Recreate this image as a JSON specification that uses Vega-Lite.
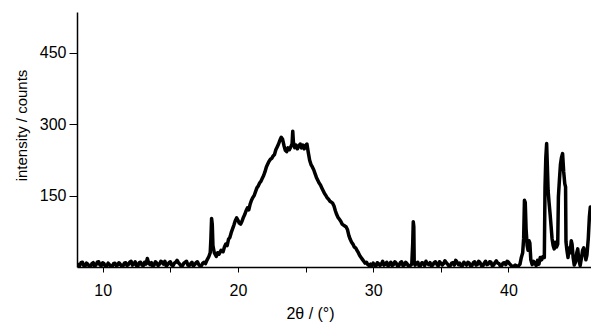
{
  "$schema": "https://vega.github.io/schema/vega-lite/v6.json",
  "width": 514,
  "height": 255,
  "autosize": "none",
  "padding": {"left": 77, "top": 12, "right": 0, "bottom": 58},
  "background": "white",
  "config": {"view": {"stroke": null}, "font": "Liberation Sans"},
  "data": {"values": [
    {"x":8.1,"y":8},{"x":8.2,"y":2},{"x":8.3,"y":3},{"x":8.4,"y":9},{"x":8.5,"y":10},{"x":8.6,"y":3},{"x":8.7,"y":2},{"x":8.8,"y":8},{"x":8.9,"y":6},{"x":9.0,"y":2},{"x":9.1,"y":1},{"x":9.2,"y":7},{"x":9.3,"y":9},{"x":9.4,"y":2},{"x":9.5,"y":4},{"x":9.6,"y":10},{"x":9.7,"y":11},{"x":9.8,"y":4},{"x":9.9,"y":3},
    {"x":10.0,"y":9},{"x":10.1,"y":7},{"x":10.2,"y":1},{"x":10.3,"y":2},{"x":10.4,"y":8},{"x":10.5,"y":5},{"x":10.6,"y":2},{"x":10.7,"y":1},{"x":10.8,"y":7},{"x":10.9,"y":8},{"x":11.0,"y":3},{"x":11.1,"y":4},{"x":11.2,"y":9},{"x":11.3,"y":6},{"x":11.4,"y":2},{"x":11.5,"y":2},{"x":11.6,"y":8},{"x":11.7,"y":9},{"x":11.8,"y":3},{"x":11.9,"y":5},
    {"x":12.0,"y":10},{"x":12.1,"y":12},{"x":12.2,"y":4},{"x":12.3,"y":6},{"x":12.4,"y":11},{"x":12.5,"y":3},{"x":12.6,"y":2},{"x":12.7,"y":9},{"x":12.8,"y":10},{"x":12.9,"y":4},{"x":13.0,"y":3},{"x":13.1,"y":10},{"x":13.2,"y":6},{"x":13.3,"y":18},{"x":13.4,"y":8},{"x":13.5,"y":5},{"x":13.6,"y":9},{"x":13.7,"y":2},{"x":13.8,"y":4},{"x":13.9,"y":11},
    {"x":14.0,"y":8},{"x":14.1,"y":3},{"x":14.2,"y":6},{"x":14.3,"y":12},{"x":14.4,"y":10},{"x":14.5,"y":6},{"x":14.6,"y":12},{"x":14.7,"y":2},{"x":14.8,"y":5},{"x":14.9,"y":9},{"x":15.0,"y":11},{"x":15.1,"y":4},{"x":15.2,"y":3},{"x":15.3,"y":8},{"x":15.4,"y":10},{"x":15.5,"y":14},{"x":15.6,"y":9},{"x":15.7,"y":6},{"x":15.8,"y":2},{"x":15.9,"y":3},
    {"x":16.0,"y":8},{"x":16.1,"y":10},{"x":16.2,"y":12},{"x":16.3,"y":4},{"x":16.4,"y":3},{"x":16.5,"y":7},{"x":16.6,"y":10},{"x":16.7,"y":2},{"x":16.8,"y":5},{"x":16.9,"y":9},{"x":17.0,"y":11},{"x":17.1,"y":5},{"x":17.2,"y":2},{"x":17.3,"y":3},{"x":17.4,"y":8},{"x":17.5,"y":10},{"x":17.6,"y":7},{"x":17.7,"y":14},{"x":17.85,"y":22},
    {"x":17.95,"y":30},{"x":18.0,"y":60},{"x":18.05,"y":102},{"x":18.1,"y":90},{"x":18.15,"y":45},{"x":18.25,"y":30},{"x":18.4,"y":22},{"x":18.5,"y":30},{"x":18.6,"y":27},{"x":18.75,"y":35},
    {"x":18.9,"y":32},{"x":19.0,"y":42},{"x":19.1,"y":48},{"x":19.2,"y":45},{"x":19.3,"y":58},{"x":19.4,"y":62},{"x":19.5,"y":72},{"x":19.6,"y":80},{"x":19.7,"y":88},{"x":19.8,"y":97},
    {"x":19.9,"y":103},{"x":20.0,"y":98},{"x":20.1,"y":92},{"x":20.2,"y":90},{"x":20.3,"y":96},{"x":20.4,"y":104},{"x":20.5,"y":110},{"x":20.6,"y":118},{"x":20.7,"y":124},{"x":20.8,"y":120},
    {"x":20.9,"y":132},{"x":21.0,"y":140},{"x":21.1,"y":146},{"x":21.2,"y":150},{"x":21.3,"y":158},{"x":21.4,"y":166},{"x":21.5,"y":170},{"x":21.6,"y":176},{"x":21.7,"y":180},{"x":21.8,"y":186},
    {"x":21.9,"y":192},{"x":22.0,"y":200},{"x":22.1,"y":210},{"x":22.2,"y":216},{"x":22.3,"y":222},{"x":22.4,"y":226},{"x":22.5,"y":228},{"x":22.6,"y":233},{"x":22.7,"y":236},{"x":22.8,"y":246},
    {"x":22.9,"y":252},{"x":23.0,"y":258},{"x":23.1,"y":266},{"x":23.2,"y":272},{"x":23.3,"y":268},{"x":23.4,"y":255},{"x":23.5,"y":245},{"x":23.6,"y":242},{"x":23.7,"y":250},{"x":23.8,"y":246},
    {"x":23.9,"y":252},{"x":24.0,"y":258},{"x":24.05,"y":285},{"x":24.1,"y":262},{"x":24.2,"y":250},{"x":24.3,"y":256},{"x":24.4,"y":248},{"x":24.5,"y":254},{"x":24.6,"y":258},{"x":24.7,"y":250},
    {"x":24.8,"y":256},{"x":24.9,"y":248},{"x":25.0,"y":255},{"x":25.1,"y":258},{"x":25.2,"y":240},{"x":25.3,"y":224},{"x":25.4,"y":215},{"x":25.5,"y":210},{"x":25.6,"y":204},{"x":25.7,"y":196},
    {"x":25.8,"y":188},{"x":25.9,"y":182},{"x":26.0,"y":176},{"x":26.1,"y":172},{"x":26.2,"y":166},{"x":26.3,"y":160},{"x":26.4,"y":154},{"x":26.5,"y":150},{"x":26.6,"y":145},{"x":26.7,"y":142},
    {"x":26.8,"y":138},{"x":26.9,"y":136},{"x":27.0,"y":134},{"x":27.1,"y":128},{"x":27.2,"y":118},{"x":27.3,"y":110},{"x":27.4,"y":104},{"x":27.5,"y":100},{"x":27.6,"y":96},{"x":27.7,"y":90},
    {"x":27.8,"y":88},{"x":27.9,"y":86},{"x":28.0,"y":84},{"x":28.1,"y":78},{"x":28.2,"y":66},{"x":28.3,"y":58},{"x":28.4,"y":52},{"x":28.5,"y":48},{"x":28.6,"y":42},{"x":28.7,"y":40},
    {"x":28.8,"y":35},{"x":28.9,"y":30},{"x":29.0,"y":24},{"x":29.1,"y":20},{"x":29.2,"y":16},{"x":29.3,"y":12},{"x":29.4,"y":8},{"x":29.5,"y":10},{"x":29.6,"y":5},{"x":29.7,"y":3},
    {"x":29.8,"y":6},{"x":29.9,"y":2},{"x":30.0,"y":8},{"x":30.1,"y":4},{"x":30.2,"y":2},{"x":30.3,"y":9},{"x":30.4,"y":7},{"x":30.5,"y":3},{"x":30.6,"y":6},{"x":30.7,"y":12},{"x":30.8,"y":4},{"x":30.9,"y":6},{"x":31.0,"y":10},{"x":31.1,"y":2},{"x":31.2,"y":5},{"x":31.3,"y":10},
    {"x":31.4,"y":3},{"x":31.5,"y":5},{"x":31.6,"y":11},{"x":31.7,"y":8},{"x":31.8,"y":2},{"x":31.9,"y":3},{"x":32.0,"y":9},{"x":32.1,"y":11},{"x":32.2,"y":3},{"x":32.3,"y":4},{"x":32.4,"y":10},{"x":32.5,"y":7},{"x":32.6,"y":2},{"x":32.7,"y":2},{"x":32.85,"y":6},{"x":32.92,"y":50},{"x":32.96,"y":95},
    {"x":33.0,"y":85},{"x":33.03,"y":10},{"x":33.1,"y":4},{"x":33.2,"y":8},{"x":33.3,"y":10},{"x":33.4,"y":2},{"x":33.5,"y":3},{"x":33.6,"y":9},{"x":33.7,"y":8},{"x":33.8,"y":3},{"x":33.9,"y":12},{"x":34.0,"y":7},{"x":34.1,"y":5},{"x":34.2,"y":9},{"x":34.3,"y":2},{"x":34.4,"y":4},{"x":34.5,"y":9},
    {"x":34.6,"y":11},{"x":34.7,"y":6},{"x":34.8,"y":2},{"x":34.9,"y":11},{"x":35.0,"y":8},{"x":35.1,"y":4},{"x":35.2,"y":7},{"x":35.3,"y":13},{"x":35.4,"y":9},{"x":35.5,"y":6},{"x":35.6,"y":2},{"x":35.7,"y":3},{"x":35.8,"y":8},{"x":35.9,"y":9},{"x":36.0,"y":4},{"x":36.1,"y":14},{"x":36.2,"y":10},{"x":36.3,"y":5},{"x":36.4,"y":8},{"x":36.5,"y":2},
    {"x":36.6,"y":3},{"x":36.7,"y":10},{"x":36.8,"y":7},{"x":36.9,"y":4},{"x":37.0,"y":10},{"x":37.1,"y":8},{"x":37.2,"y":2},{"x":37.3,"y":3},{"x":37.4,"y":9},{"x":37.5,"y":11},{"x":37.6,"y":4},{"x":37.7,"y":5},{"x":37.8,"y":12},{"x":37.9,"y":9},{"x":38.0,"y":3},{"x":38.1,"y":2},{"x":38.2,"y":8},{"x":38.3,"y":12},{"x":38.4,"y":5},{"x":38.5,"y":6},
    {"x":38.6,"y":11},{"x":38.7,"y":10},{"x":38.8,"y":3},{"x":38.9,"y":4},{"x":39.0,"y":9},{"x":39.1,"y":13},{"x":39.2,"y":8},{"x":39.3,"y":7},{"x":39.4,"y":2},{"x":39.5,"y":3},{"x":39.6,"y":8},{"x":39.7,"y":9},{"x":39.8,"y":5},{"x":39.9,"y":12},{"x":40.0,"y":10},{"x":40.1,"y":6},{"x":40.2,"y":3},{"x":40.3,"y":2},{"x":40.4,"y":1},{"x":40.5,"y":4},
    {"x":40.6,"y":2},{"x":40.7,"y":1},{"x":40.85,"y":6},{"x":40.95,"y":20},{"x":41.05,"y":30},{"x":41.12,"y":60},{"x":41.18,"y":140},{"x":41.24,"y":135},{"x":41.3,"y":80},{"x":41.38,"y":45},{"x":41.45,"y":35},
    {"x":41.52,"y":55},{"x":41.58,"y":50},{"x":41.65,"y":15},{"x":41.75,"y":5},{"x":41.85,"y":12},{"x":41.95,"y":8},{"x":42.05,"y":3},{"x":42.15,"y":14},{"x":42.25,"y":6},{"x":42.35,"y":20},
    {"x":42.45,"y":15},{"x":42.55,"y":22},{"x":42.65,"y":20},{"x":42.7,"y":168},{"x":42.76,"y":230},{"x":42.82,"y":259},{"x":42.87,"y":215},{"x":42.93,"y":160},{"x":43.0,"y":135},{"x":43.08,"y":110},
    {"x":43.15,"y":85},{"x":43.22,"y":60},{"x":43.3,"y":45},{"x":43.38,"y":38},{"x":43.46,"y":52},{"x":43.55,"y":42},{"x":43.64,"y":48},{"x":43.69,"y":147},{"x":43.76,"y":180},{"x":43.84,"y":215},
    {"x":43.92,"y":230},{"x":44.0,"y":238},{"x":44.08,"y":200},{"x":44.16,"y":175},{"x":44.22,"y":168},{"x":44.25,"y":53},{"x":44.32,"y":35},{"x":44.4,"y":20},{"x":44.48,"y":40},{"x":44.56,"y":30},
    {"x":44.64,"y":55},{"x":44.7,"y":48},{"x":44.78,"y":20},{"x":44.86,"y":4},{"x":44.95,"y":10},{"x":45.05,"y":30},{"x":45.12,"y":38},{"x":45.2,"y":15},{"x":45.3,"y":3},{"x":45.4,"y":20},
    {"x":45.48,"y":35},{"x":45.56,"y":40},{"x":45.64,"y":30},{"x":45.72,"y":15},{"x":45.8,"y":25},{"x":45.9,"y":60},{"x":45.98,"y":105},{"x":46.05,"y":126},{"x":46.1,"y":120}
  ]},
  "mark": {"type": "line", "color": "black", "strokeWidth": 3.5, "clip": true, "strokeJoin": "round"},
  "encoding": {
    "x": {
      "field": "x", "type": "quantitative",
      "scale": {"domain": [8.1, 46.1], "nice": false, "zero": false},
      "axis": {
        "values": [10, 15, 20, 25, 30, 35, 40],
        "labelExpr": "datum.value % 10 == 0 ? datum.label : ''",
        "grid": false, "tickSize": 5, "tickColor": "black", "domainColor": "black", "domainWidth": 1.5,
        "labelFontSize": 16, "labelColor": "black", "labelPadding": 10, "labelFont": "Liberation Sans",
        "title": "2θ / (°)", "titleFont": "Liberation Sans", "titleFontSize": 16, "titleFontWeight": "normal", "titleColor": "black", "titlePadding": 7, "titleX": 233
      }
    },
    "y": {
      "field": "y", "type": "quantitative",
      "scale": {"domain": [0, 535], "nice": false},
      "axis": {
        "values": [150, 300, 450],
        "grid": false, "tickSize": 8, "tickColor": "black", "domainColor": "black", "domainWidth": 1.5,
        "labelFontSize": 16, "labelColor": "black", "labelPadding": 3, "labelFont": "Liberation Sans",
        "title": "intensity / counts", "titleFont": "Liberation Sans", "titleFontSize": 15, "titleFontWeight": "normal", "titleColor": "black", "titlePadding": 10, "titleY": 113
      }
    }
  }
}
